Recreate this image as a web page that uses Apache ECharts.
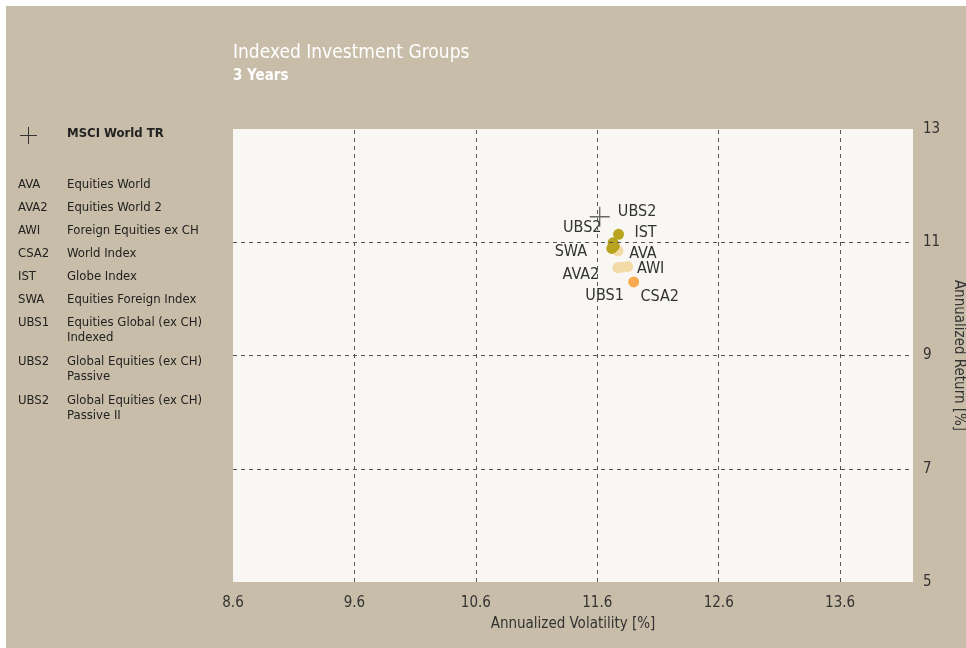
<!DOCTYPE html>
<html><head><meta charset="utf-8">
<script src="https://cdn.jsdelivr.net/npm/echarts@6/dist/echarts.min.js"></script>
<style>html,body{margin:0;padding:0;background:#fff;overflow:hidden}#c{width:966px;height:648px}</style>
</head><body><div id="c"></div>
<script>
const FONT = "'Liberation Sans Narrow','DejaVu Sans Condensed','Open Sans',sans-serif";
const titleText = 'Indexed Investment Groups';
const subTitleText = '3 Years';
const xAxisName = 'Annualized Volatility [%]';
const yAxisName = 'Annualized Return [%]';
const tickX = [8.6, 9.6, 10.6, 11.6, 12.6, 13.6];
const tickY = [5, 7, 9, 11, 13];
const gridX = [9.6, 10.6, 11.6, 12.6, 13.6];
const gridY = [7, 9, 11];

const benchName = 'MSCI World TR';
const benchVol = [11.62];
const benchRet = [11.45];

const lightNames = ['AVA', 'AVA2', 'UBS1', 'AWI'];
const lightVol = [11.77, 11.77, 11.80, 11.85];
const lightRet = [10.85, 10.55, 10.56, 10.57];

const orangeNames = ['CSA2'];
const orangeVol = [11.90];
const orangeRet = [10.30];

const darkNames = ['SWA', 'UBS2', 'UBS2', 'IST'];
const darkVol = [11.72, 11.74, 11.73, 11.775];
const darkRet = [10.89, 10.93, 10.99, 11.14];

const legendCodes = ['AVA', 'AVA2', 'AWI', 'CSA2', 'IST', 'SWA', 'UBS1', 'UBS2', 'UBS2'];
const legendNames = ['Equities World', 'Equities World 2', 'Foreign Equities ex CH', 'World Index', 'Globe Index',
  'Equities Foreign Index', 'Equities Global (ex CH)\nIndexed', 'Global Equities (ex CH)\nPassive', 'Global Equities (ex CH)\nPassive II'];

// label placement offsets (styling)
const lightOffsets = [[25, 3], [-37, 7], [-17, 29], [23, 2]];
const orangeOffsets = [[26, 15]];
const darkOffsets = [[-41, 3], [-32, -18], [24, -31], [27, -1]];

const PLUS = 'path://M8.5,0h1.2v8.5h8.5v1.2h-8.5v8.5h-1.2v-8.5h-8.5v-1.2h8.5z';

function pts(names, vol, ret, offs) {
  return names.map((n, i) => ({
    name: n, value: [vol[i], ret[i]],
    label: { offset: offs[i] }
  }));
}
const labelStyle = { show: true, position: 'inside', formatter: '{b}', color: '#333', fontSize: 16, fontFamily: FONT };

const chart = echarts.init(document.getElementById('c'), null, { renderer: 'canvas', width: 966, height: 648 });

const graphics = [
  { type: 'rect', shape: { x: 6, y: 6, width: 966, height: 648 }, style: { fill: '#c8bda8' }, z: -10 },
  { type: 'text', x: 233, y: 53, style: { text: titleText, fill: '#fff', fontSize: 19, fontFamily: FONT, verticalAlign: 'middle' } },
  { type: 'text', x: 233, y: 76, style: { text: subTitleText, fill: '#fff', fontSize: 15, fontWeight: 'bold', fontFamily: FONT, verticalAlign: 'middle' } },
  { type: 'line', shape: { x1: 20, y1: 135.5, x2: 37, y2: 135.5 }, style: { stroke: '#333', lineWidth: 1 } },
  { type: 'line', shape: { x1: 28.5, y1: 127, x2: 28.5, y2: 144 }, style: { stroke: '#333', lineWidth: 1 } },
  { type: 'text', x: 67, y: 134, style: { text: benchName, fill: '#222', fontSize: 13, fontWeight: 'bold', fontFamily: FONT, verticalAlign: 'middle' } }
];
const rowY = [185, 208, 231, 254, 277, 300, 323, 362, 401];
legendCodes.forEach((c, i) => {
  graphics.push({ type: 'text', x: 18, y: rowY[i], style: { text: c, fill: '#222', fontSize: 13, fontFamily: FONT, verticalAlign: 'middle' } });
  graphics.push({ type: 'text', x: 67, y: rowY[i] - 8, style: { text: legendNames[i], fill: '#222', fontSize: 13, lineHeight: 15, fontFamily: FONT, verticalAlign: 'top' } });
});

chart.setOption({
  animation: false,
  backgroundColor: '#fff',
  textStyle: { fontFamily: FONT },
  graphic: graphics,
  grid: { left: 233, top: 129, right: 53, bottom: 66, show: true, backgroundColor: '#f9f7f3', borderWidth: 0, containLabel: false, outerBoundsMode: 'none' },
  xAxis: {
    type: 'value', min: 8.6, max: 14.2,
    name: xAxisName, nameLocation: 'middle', nameGap: 35,
    nameTextStyle: { color: '#333', fontSize: 15, fontFamily: FONT },
    axisLine: { show: false }, axisTick: { show: false }, splitLine: { show: false },
    axisLabel: { customValues: tickX, color: '#333', fontSize: 15, fontFamily: FONT, margin: 14, formatter: v => v.toFixed(1) }
  },
  yAxis: {
    type: 'value', min: 5, max: 13, position: 'right',
    name: yAxisName, nameLocation: 'middle', nameGap: 30, nameRotate: -90,
    nameTextStyle: { color: '#333', fontSize: 15, fontFamily: FONT },
    axisLine: { show: false }, axisTick: { show: false }, splitLine: { show: false },
    axisLabel: { customValues: tickY, color: '#333', fontSize: 15, fontFamily: FONT, margin: 10 }
  },
  series: [
    {
      type: 'scatter', data: [], silent: true,
      markLine: {
        silent: true, symbol: 'none', label: { show: false },
        lineStyle: { color: '#555', type: [4, 4], width: 1 },
        data: gridX.map(v => ({ xAxis: v })).concat(gridY.map(v => ({ yAxis: v })))
      }
    },
    { type: 'scatter', name: 'light', symbolSize: 11, itemStyle: { color: '#f2d9a6', opacity: 1 }, label: labelStyle, data: pts(lightNames, lightVol, lightRet, lightOffsets) },
    { type: 'scatter', name: 'orange', symbolSize: 11, itemStyle: { color: '#f8ab4e', opacity: 1 }, label: labelStyle, data: pts(orangeNames, orangeVol, orangeRet, orangeOffsets) },
    { type: 'scatter', name: 'dark', symbolSize: 11, itemStyle: { color: '#b8a41f', opacity: 1 }, label: labelStyle, data: pts(darkNames, darkVol, darkRet, darkOffsets) },
    { type: 'scatter', name: benchName, symbol: PLUS, symbolSize: 20, itemStyle: { color: '#444' }, data: benchVol.map((v, i) => [v, benchRet[i]]) }
  ]
});
</script></body></html>
